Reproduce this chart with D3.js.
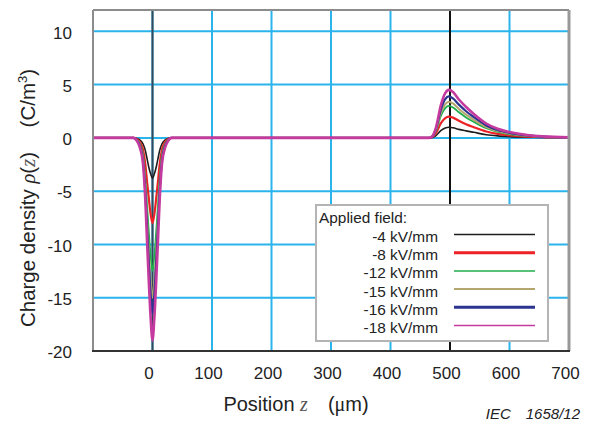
<!DOCTYPE html>
<html><head><meta charset="utf-8">
<script src="https://cdn.jsdelivr.net/npm/d3@7"></script>
<style>
html,body{margin:0;padding:0;background:#fff;}
svg{display:block;font-family:"Liberation Sans",Arial,sans-serif;}
</style></head>
<body><svg id="c" width="590" height="423"></svg>
<script>
// ---- data ----
const positions = [-100, -32, -26, -21, -16, -12, -9, -6, -3, 0, 3, 6, 9, 12, 16, 21, 26, 32, 100, 200, 300, 400, 465, 470, 476, 485, 492, 498, 505, 515, 527, 540, 561, 580, 600, 630, 655, 700];
const fields = ["-4 kV/mm", "-8 kV/mm", "-12 kV/mm", "-15 kV/mm", "-16 kV/mm", "-18 kV/mm"];
const rho4  = [0, 0, -0.06, -0.2, -0.55, -1.2, -2.0, -2.8, -3.4, -3.8, -3.4, -2.8, -2.0, -1.2, -0.55, -0.2, -0.06, 0, 0, 0, 0, 0, 0, 0.03, 0.2, 0.7, 0.93, 1.0, 0.95, 0.8, 0.66, 0.52, 0.3, 0.19, 0.12, 0.06, 0.03, 0.01];
const rho8  = [0, 0, -0.12, -0.4, -1.1, -2.5, -4.2, -5.8, -7.2, -8.0, -7.2, -5.8, -4.2, -2.5, -1.1, -0.4, -0.12, 0, 0, 0, 0, 0, 0, 0.06, 0.4, 1.4, 1.86, 2.0, 1.9, 1.6, 1.28, 1.0, 0.6, 0.38, 0.24, 0.12, 0.06, 0.02];
const rho12 = [0, 0, -0.18, -0.6, -1.6, -3.9, -6.5, -9.0, -11.2, -12.5, -11.2, -9.0, -6.5, -3.9, -1.6, -0.6, -0.18, 0, 0, 0, 0, 0, 0, 0.09, 0.6, 2.1, 2.8, 3.0, 2.85, 2.4, 1.92, 1.5, 0.9, 0.57, 0.36, 0.18, 0.09, 0.03];
const rho15 = [0, 0, -0.22, -0.72, -1.9, -4.6, -7.8, -10.8, -13.5, -15.0, -13.5, -10.8, -7.8, -4.6, -1.9, -0.72, -0.22, 0, 0, 0, 0, 0, 0, 0.1, 0.68, 2.38, 3.16, 3.4, 3.23, 2.72, 2.18, 1.7, 1.02, 0.65, 0.41, 0.2, 0.1, 0.03];
const rho16 = [0, 0, -0.25, -0.8, -2.1, -5.1, -8.6, -11.9, -14.8, -16.5, -14.8, -11.9, -8.6, -5.1, -2.1, -0.8, -0.25, 0, 0, 0, 0, 0, 0, 0.12, 0.78, 2.73, 3.63, 3.9, 3.7, 3.12, 2.5, 1.95, 1.17, 0.74, 0.47, 0.23, 0.12, 0.04];
const rho18 = [0, 0, -0.3, -0.95, -2.4, -5.9, -9.9, -13.7, -17.0, -19.0, -17.0, -13.7, -9.9, -5.9, -2.4, -0.95, -0.3, 0, 0, 0, 0, 0, 0, 0.14, 0.9, 3.15, 4.2, 4.5, 4.3, 3.6, 2.9, 2.25, 1.35, 0.85, 0.55, 0.27, 0.14, 0.05];
const seriesValues = [rho4, rho8, rho12, rho15, rho16, rho18];
const colors = ["#1e1e1e", "#ec2227", "#1fae4b", "#b3a66e", "#2b3590", "#c53a9e"];
const widths = [1.6, 2.2, 1.8, 2.0, 2.2, 2.6];
const legendWidths = [1.5, 3, 1.5, 2, 3, 1.5];
const xTicks = [0, 100, 200, 300, 400, 500, 600, 700];
const yTicks = [10, 5, 0, -5, -10, -15, -20];
const xGrid = [0, 100, 200, 300, 400, 500, 600];
const yGrid = [10, 5, 0, -5, -10, -15];
const electrodes = [0, 500];

// ---- layout ----
const svg = d3.select("#c");
const L = 93, R = 569, T = 10, B = 351;
const x = d3.scaleLinear().domain([-100, 700]).range([L, R]);
const y = d3.scaleLinear().domain([-20, 12]).range([B, T]);

const g = svg.append("g");
// grid
g.selectAll(".vg").data(xGrid).enter().append("line")
  .attr("x1", d => x(d)).attr("x2", d => x(d)).attr("y1", T).attr("y2", B)
  .attr("stroke", "#2bb3ec").attr("stroke-width", 2);
g.selectAll(".hg").data(yGrid).enter().append("line")
  .attr("y1", d => y(d)).attr("y2", d => y(d)).attr("x1", L).attr("x2", R)
  .attr("stroke", "#2bb3ec").attr("stroke-width", 2);
// electrode lines
g.selectAll(".el").data(electrodes).enter().append("line")
  .attr("x1", d => x(d)).attr("x2", d => x(d)).attr("y1", T + 1).attr("y2", B)
  .attr("stroke", (d, i) => i === 0 ? "#34495a" : "#111").attr("stroke-width", 2);

// curves
const line = d3.line().x((d, i) => x(positions[i])).y(d => y(d)).curve(d3.curveMonotoneX);
seriesValues.forEach((vals, k) => {
  g.append("path").attr("d", line(vals)).attr("fill", "none")
    .attr("stroke", colors[k]).attr("stroke-width", widths[k]).attr("stroke-linejoin", "round");
});

// frame
g.append("line").attr("x1", L).attr("x2", R).attr("y1", T).attr("y2", T).attr("stroke", "#8c8c8c").attr("stroke-width", 2);
g.append("line").attr("x1", L).attr("x2", L).attr("y1", T).attr("y2", B).attr("stroke", "#8c8c8c").attr("stroke-width", 2);
g.append("line").attr("x1", R).attr("x2", R).attr("y1", T).attr("y2", B).attr("stroke", "#999").attr("stroke-width", 3);
g.append("line").attr("x1", L - 1).attr("x2", R + 1).attr("y1", B).attr("y2", B).attr("stroke", "#333").attr("stroke-width", 2);

// axes labels via d3 axes
const fmt = d => String(d);
const xAxis = d3.axisBottom(x).tickValues(xTicks).tickFormat(fmt).tickSize(0).tickPadding(0);
const xa = svg.append("g").attr("transform", `translate(0,${B})`).call(xAxis);
xa.select(".domain").remove();
xa.selectAll("text").attr("font-size", 17).attr("fill", "#222").attr("dy", null)
  .attr("y", 28).attr("dx", -4).attr("font-family", "Liberation Sans, Arial, sans-serif");

const yAxis = d3.axisLeft(y).tickValues(yTicks).tickFormat(fmt).tickSize(0).tickPadding(0);
const ya = svg.append("g").attr("transform", `translate(72,0)`).call(yAxis);
ya.select(".domain").remove();
ya.selectAll("text").attr("font-size", 17).attr("fill", "#222").attr("dy", "0.4em")
  .attr("x", 0).attr("font-family", "Liberation Sans, Arial, sans-serif");

// x title
const xt = svg.append("text").attr("x", 296).attr("y", 411).attr("text-anchor", "middle")
  .attr("font-size", 20).attr("fill", "#222");
xt.append("tspan").text("Position ");
xt.append("tspan").text("z").attr("font-family", "Liberation Serif, serif").attr("font-style", "italic").attr("fill", "#555");
xt.append("tspan").text("\u2002\u2002(").attr("dx", 0);
xt.append("tspan").text("\u03bc").attr("font-family", "Liberation Serif, serif");
xt.append("tspan").text("m)");

// y title
const yt = svg.append("text").attr("transform", "translate(35,198) rotate(-90)")
  .attr("text-anchor", "middle").attr("font-size", 20.5).attr("fill", "#222");
yt.append("tspan").text("Charge density ");
yt.append("tspan").text("\u03c1").attr("font-family", "Liberation Serif, serif").attr("font-style", "italic");
yt.append("tspan").text("(");
yt.append("tspan").text("z").attr("font-family", "Liberation Serif, serif").attr("font-style", "italic").attr("fill", "#555");
yt.append("tspan").text(")\u2002\u2002\u2009(C/m");
yt.append("tspan").text("3").attr("font-size", 13).attr("dy", -8);
yt.append("tspan").text(")").attr("dy", 8);

// IEC note
svg.append("text").attr("x", 580).attr("y", 419).attr("text-anchor", "end")
  .attr("font-size", 15).attr("font-style", "italic").attr("fill", "#222")
  .text("IEC\u2002\u20021658/12");

// legend
const lg = svg.append("g");
lg.append("rect").attr("x", 316).attr("y", 205).attr("width", 232).attr("height", 136)
  .attr("fill", "#fff").attr("stroke", "#b4b4b4").attr("stroke-width", 2);
lg.append("text").attr("x", 319).attr("y", 223).attr("font-size", 15.4).attr("fill", "#222").text("Applied field:");
fields.forEach((f, i) => {
  const cy = 236.5 + i * 18.2;
  lg.append("text").attr("x", 438).attr("y", cy + 5.5).attr("text-anchor", "end")
    .attr("font-size", 15.4).attr("fill", "#222").text(f);
  lg.append("line").attr("x1", 454).attr("x2", 535).attr("y1", cy - 2).attr("y2", cy - 2)
    .attr("stroke", colors[i]).attr("stroke-width", legendWidths[i]);
});
</script>
</body></html>
